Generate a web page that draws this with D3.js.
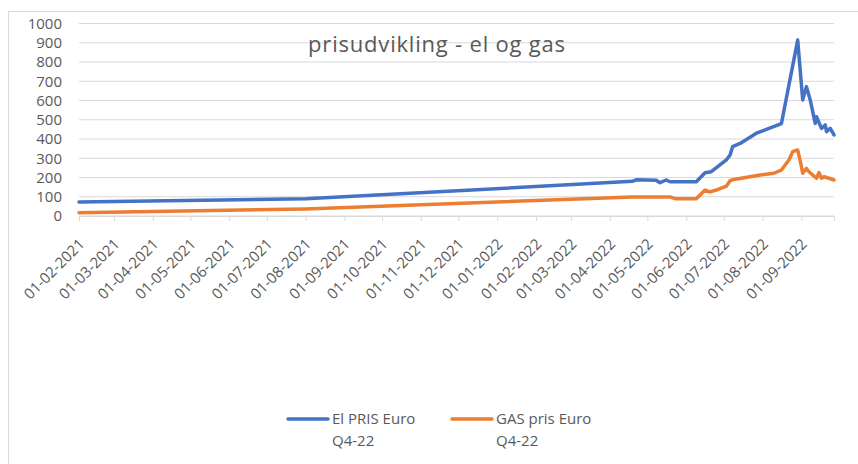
<!DOCTYPE html>
<html>
<head>
<meta charset="utf-8">
<script src="https://cdn.jsdelivr.net/npm/d3@7"></script>
<style>
  html, body { margin: 0; padding: 0; background: #fff; }
  svg { display: block; }
  text { font-family: "Open Sans", sans-serif; fill: #595959; }
</style>
</head>
<body>
<svg id="chart" width="858" height="464"></svg>
<script>
// ---- data ----
const title = "prisudvikling - el og gas";
const elName = ["El PRIS Euro", "Q4-22"];
const gasName = ["GAS pris Euro", "Q4-22"];

const elDates = ["2021-02-01","2021-08-01","2022-04-19","2022-04-22","2022-05-08","2022-05-11","2022-05-16","2022-05-19","2022-06-09","2022-06-16","2022-06-21","2022-07-03","2022-07-06","2022-07-08","2022-07-14","2022-07-27","2022-08-04","2022-08-16","2022-08-29","2022-09-02","2022-09-05","2022-09-08","2022-09-12","2022-09-13","2022-09-17","2022-09-20","2022-09-21","2022-09-24","2022-09-27"];
const elValues = [73,89,180,188,186,173,187,178,178,225,230,291,317,360,377,430,450,480,914,603,672,603,481,516,455,473,438,455,421];

const gasDates = ["2021-02-01","2021-08-01","2022-04-19","2022-05-19","2022-05-23","2022-06-09","2022-06-16","2022-06-20","2022-06-25","2022-07-03","2022-07-06","2022-07-09","2022-07-30","2022-08-10","2022-08-16","2022-08-22","2022-08-25","2022-08-29","2022-09-01","2022-09-02","2022-09-05","2022-09-07","2022-09-13","2022-09-15","2022-09-17","2022-09-19","2022-09-23","2022-09-27"];
const gasValues = [17,37,99,99,90,90,135,125,135,155,183,190,213,222,239,291,334,343,256,222,247,230,196,225,196,204,196,187];

const yTicks = [0,100,200,300,400,500,600,700,800,900,1000];

// ---- layout ----
const svg = d3.select("#chart");
const parse = d3.timeParse("%Y-%m-%d");
const elData = elDates.map((d, i) => ({ date: parse(d), value: elValues[i] }));
const gasData = gasDates.map((d, i) => ({ date: parse(d), value: gasValues[i] }));

const mLeft = 79, mRight = 834, mTop = 23.5, mBottom = 216;

svg.append("rect")
  .attr("x", 8.5).attr("y", 11.5).attr("width", 900).attr("height", 500)
  .attr("fill", "none").attr("stroke", "#d9d9d9");

const allDates = elData.concat(gasData).map(d => d.date);
const x = d3.scaleTime().domain(d3.extent(allDates)).range([mLeft, mRight]);
const y = d3.scaleLinear().domain([0, 1000]).range([mBottom, mTop]);

// gridlines
svg.append("g").selectAll("line").data(yTicks).join("line")
  .attr("x1", mLeft).attr("x2", mRight)
  .attr("y1", d => y(d)).attr("y2", d => y(d))
  .attr("stroke", "#d9d9d9").attr("stroke-width", 1);

// y labels
const yAxis = d3.axisLeft(y).tickValues(yTicks).tickFormat(d3.format("d")).tickSize(0).tickPadding(0);
const gy = svg.append("g").attr("transform", `translate(${mLeft - 17},0)`).call(yAxis);
gy.select(".domain").remove();
gy.selectAll("text").style("font-size", "15px").attr("fill", "#595959").attr("font-family", "Open Sans");

// x axis
const monthTicks = d3.timeMonth.range(x.domain()[0], d3.timeDay.offset(x.domain()[1], 1));
const xAxis = d3.axisBottom(x).tickValues(monthTicks).tickFormat(d3.timeFormat("%d-%m-%Y")).tickSize(5).tickPadding(0);
const gx = svg.append("g").attr("transform", `translate(0,${mBottom})`).call(xAxis);
gx.select(".domain").attr("stroke", "#d9d9d9");
gx.selectAll(".tick line").attr("stroke", "#d9d9d9");
gx.selectAll(".tick text")
  .style("font-size", "15px")
  .attr("fill", "#595959")
  .attr("font-family", "Open Sans")
  .attr("text-anchor", "end")
  .attr("dy", null)
  .attr("y", 0)
  .attr("transform", "translate(6,29) rotate(-45)");

// lines
const line = d3.line().x(d => x(d.date)).y(d => y(d.value));
svg.append("path").datum(gasData).attr("d", line)
  .attr("fill", "none").attr("stroke", "#ED7D31").attr("stroke-width", 3.5)
  .attr("stroke-linejoin", "round").attr("stroke-linecap", "round");
svg.append("path").datum(elData).attr("d", line)
  .attr("fill", "none").attr("stroke", "#4472C4").attr("stroke-width", 3.5)
  .attr("stroke-linejoin", "round").attr("stroke-linecap", "round");

// title
svg.append("text").attr("x", 437).attr("y", 52).attr("text-anchor", "middle")
  .style("font-size", "22px").style("letter-spacing", "0.8px").text(title);

// legend
const legend = [
  { name: elName, color: "#4472C4", x: 288 },
  { name: gasName, color: "#ED7D31", x: 452 }
];
const lg = svg.append("g").selectAll("g").data(legend).join("g")
  .attr("transform", d => `translate(${d.x},419)`);
lg.append("line").attr("x1", 0).attr("x2", 40).attr("y1", 0).attr("y2", 0)
  .attr("stroke", d => d.color).attr("stroke-width", 3.5).attr("stroke-linecap", "round");
lg.append("text").attr("x", 44).attr("y", 5).style("font-size", "15px").text(d => d.name[0]);
lg.append("text").attr("x", 44).attr("y", 27).style("font-size", "15px").text(d => d.name[1]);
</script>
</body>
</html>
